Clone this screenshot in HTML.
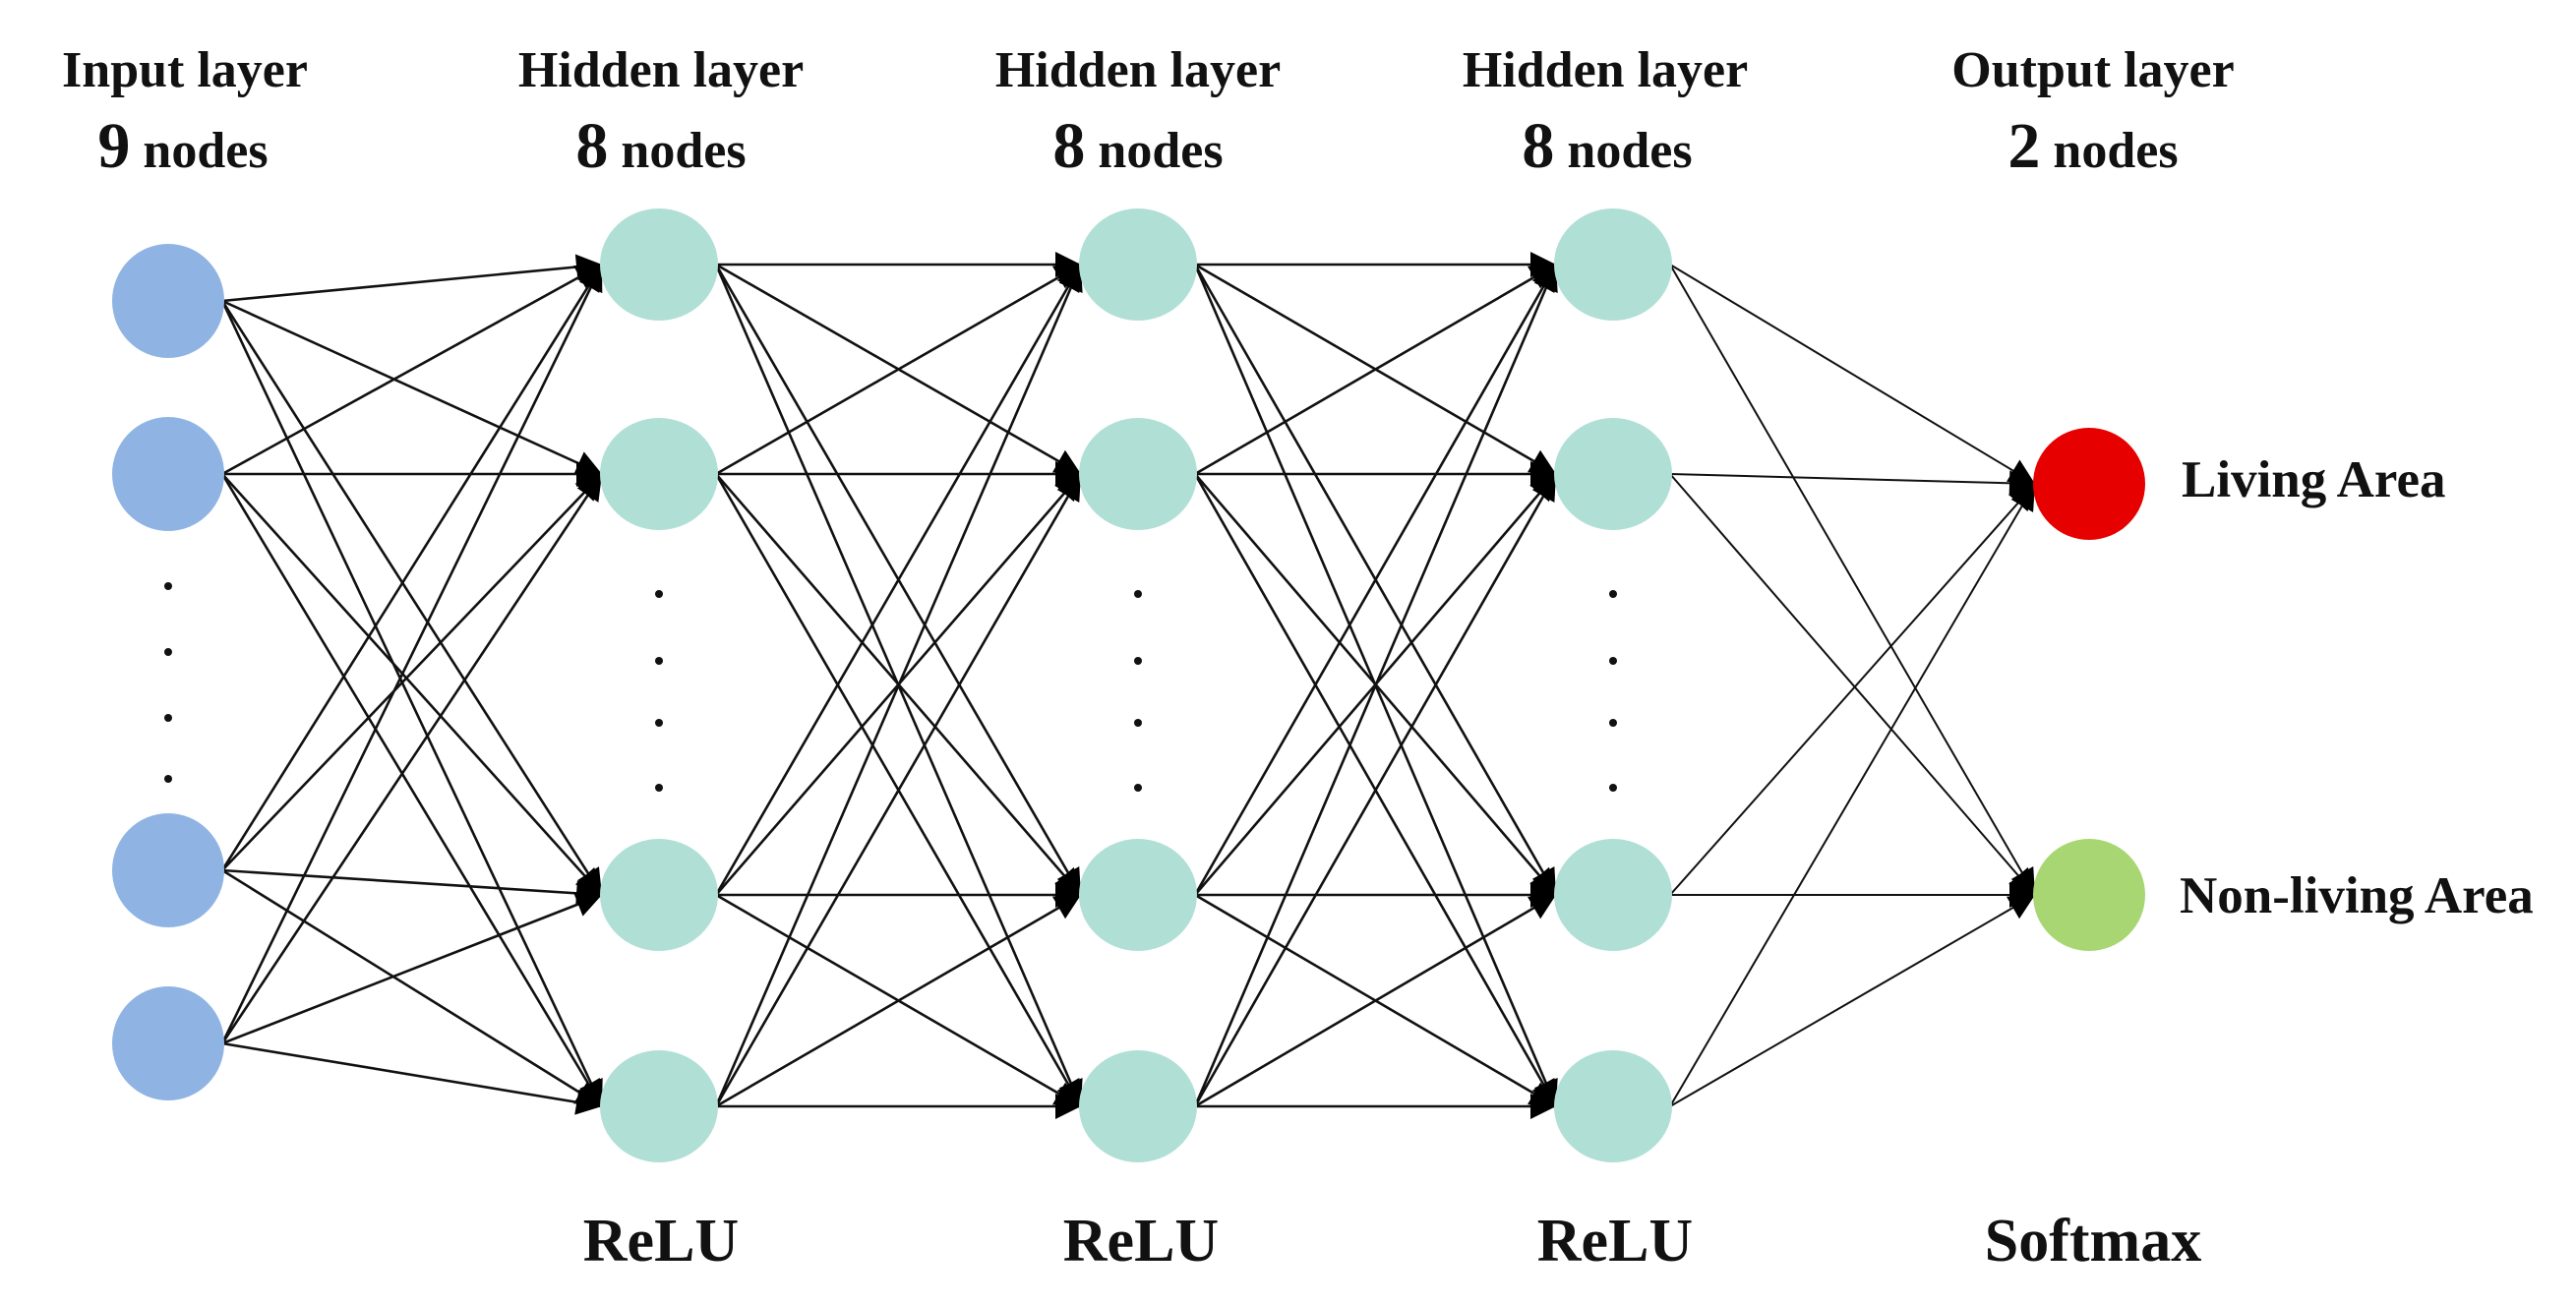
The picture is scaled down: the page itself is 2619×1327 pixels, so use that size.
<!DOCTYPE html>
<html><head><meta charset="utf-8"><style>
html,body{margin:0;padding:0;background:#fff;}
svg{display:block;}
text{font-family:"Liberation Serif",serif;font-weight:bold;fill:#111;}
</style></head><body>
<svg id="s" width="2619" height="1327" viewBox="0 0 2619 1327" xmlns="http://www.w3.org/2000/svg">
<defs>
<marker id="b" viewBox="0 0 10 10" refX="10" refY="5" markerWidth="28" markerHeight="26" markerUnits="userSpaceOnUse" orient="auto">
<path d="M0,0 L10,5 L0,10 z" fill="#000"/>
</marker>
</defs>
<g id="edges"></g>
<g id="nodes"></g>
<g font-size="52" text-anchor="middle">
<text x="188" y="88">Input layer</text>
<text x="672" y="88">Hidden layer</text>
<text x="1157" y="88">Hidden layer</text>
<text x="1632" y="88">Hidden layer</text>
<text x="2128" y="88">Output layer</text>
<text x="186" y="170"><tspan font-size="66">9</tspan> nodes</text>
<text x="672" y="170"><tspan font-size="66">8</tspan> nodes</text>
<text x="1157" y="170"><tspan font-size="66">8</tspan> nodes</text>
<text x="1634" y="170"><tspan font-size="66">8</tspan> nodes</text>
<text x="2128" y="170"><tspan font-size="66">2</tspan> nodes</text>
<text x="672" y="1282" font-size="62">ReLU</text>
<text x="1160" y="1282" font-size="62">ReLU</text>
<text x="1642" y="1282" font-size="62">ReLU</text>
<text x="2128" y="1282" font-size="62">Softmax</text>
</g>
<g font-size="53">
<text x="2218" y="505">Living Area</text>
<text x="2216" y="928">Non-living Area</text>
</g>
</svg>
<script>
var NS="http://www.w3.org/2000/svg";
var E=document.getElementById("edges"),N=document.getElementById("nodes");
var cols=[
 {x:171,ys:[306,482,885,1061],c:"#8fb4e3",rx:57,ry:58},
 {x:670,ys:[269,482,910,1125],c:"#b0dfd6",rx:60,ry:57},
 {x:1157,ys:[269,482,910,1125],c:"#b0dfd6",rx:60,ry:57},
 {x:1640,ys:[269,482,910,1125],c:"#b0dfd6",rx:60,ry:57},
 {x:2124,ys:[492,910],c:null,rx:57,ry:57}
];
function el(t,a,p){var e=document.createElementNS(NS,t);for(var k in a)e.setAttribute(k,a[k]);p.appendChild(e);return e;}
for(var i=0;i<4;i++){
 var A=cols[i],B=cols[i+1];
 for(var s=0;s<A.ys.length;s++)for(var t=0;t<B.ys.length;t++){
  el("line",{x1:A.x+A.rx-2,y1:A.ys[s],x2:B.x-B.rx+2,y2:B.ys[t],stroke:"#111","stroke-width":i==3?2:2.6,"marker-end":"url(#b)"},E);
 }
}
cols.forEach(function(c,ci){
 c.ys.forEach(function(y,k){
  var col=c.c;if(ci==4)col=k==0?"#e60000":"#a8d672";
  el("ellipse",{cx:c.x,cy:y,rx:c.rx,ry:c.ry,fill:col},N);
 });
});
[[171,[596,663,730,792]],[670,[604,672,735,801]],[1157,[604,672,735,801]],[1640,[604,672,735,801]]].forEach(function(d){
 d[1].forEach(function(y){el("circle",{cx:d[0],cy:y,r:4,fill:"#111"},N);});
});
</script>
</body></html>
